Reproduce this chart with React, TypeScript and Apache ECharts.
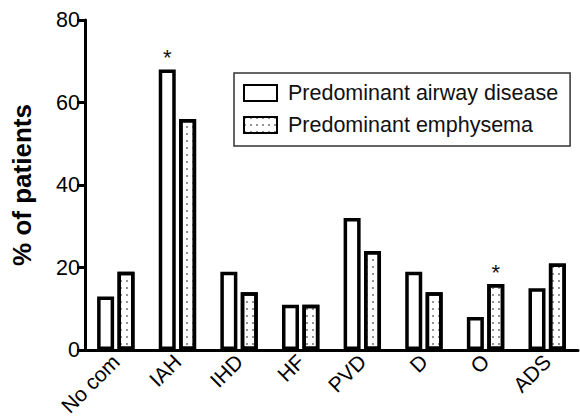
import React, { useEffect, useRef } from "react";
import * as echarts from "echarts";

const categories = ["No com", "IAH", "IHD", "HF", "PVD", "D", "O", "ADS"];
const airwayValues = [13, 68, 19, 11, 32, 19, 8, 15];
const emphysemaValues = [19, 56, 14, 11, 24, 14, 16, 21];
const airwayStars = [false, true, false, false, false, false, false, false];
const emphysemaStars = [false, false, false, false, false, false, true, false];
const yTicks = [0, 20, 40, 60, 80];
const seriesNames = ["Predominant airway disease", "Predominant emphysema"];

const FONT = "'Liberation Sans', Arial, sans-serif";

const dotDecal = {
  symbol: "rect",
  symbolSize: 0.7,
  color: "#333",
  backgroundColor: "#fff",
  dashArrayX: [2, 4],
  dashArrayY: [2, 4.5],
  rotation: 0,
};

function withStars(values: number[], stars: boolean[]) {
  return values.map((v, i) =>
    stars[i]
      ? {
          value: v,
          label: {
            show: true,
            position: "top",
            distance: 1,
            formatter: "*",
            fontSize: 22,
            fontFamily: FONT,
            color: "#111",
          },
        }
      : v
  );
}

export default function App() {
  const ref = useRef<HTMLDivElement>(null);
  useEffect(() => {
    if (!ref.current) return;
    const chart = echarts.init(ref.current, undefined, { renderer: "svg" });
    chart.setOption({
      animation: false,
      backgroundColor: "#fff",
      grid: {
        left: 85,
        right: 2,
        top: 20,
        bottom: 70,
        containLabel: false,
        outerBoundsMode: "none",
      },
      legend: {
        orient: "vertical",
        left: 234,
        top: 73,
        padding: [9, 12, 10, 9],
        borderColor: "#333",
        borderWidth: 1.5,
        itemWidth: 33,
        itemHeight: 16,
        itemGap: 10,
        icon: "rect",
        textStyle: {
          fontSize: 21.5,
          fontFamily: FONT,
          color: "#111",
          padding: [0, 0, 0, 6],
        },
        data: seriesNames,
      },
      xAxis: {
        type: "category",
        data: categories,
        axisLine: { lineStyle: { color: "#000", width: 3 } },
        axisTick: { show: false },
        axisLabel: {
          rotate: 45,
          fontSize: 21,
          fontFamily: FONT,
          color: "#000",
          margin: 8,
          interval: 0,
        },
      },
      yAxis: {
        type: "value",
        min: yTicks[0],
        max: yTicks[yTicks.length - 1],
        interval: 20,
        name: "% of patients",
        nameLocation: "middle",
        nameGap: 50,
        nameTextStyle: {
          fontSize: 26,
          fontWeight: "bold",
          fontFamily: FONT,
          color: "#000",
        },
        axisLine: { show: true, lineStyle: { color: "#000", width: 3 } },
        axisTick: { show: true, length: 8, lineStyle: { color: "#000", width: 3 } },
        axisLabel: {
          fontSize: 21.5,
          fontFamily: FONT,
          color: "#000",
          margin: 5,
        },
        splitLine: { show: false },
      },
      series: [
        {
          name: seriesNames[0],
          type: "bar",
          data: withStars(airwayValues, airwayStars),
          barWidth: 17,
          barGap: "20%",
          itemStyle: { color: "#fff", borderColor: "#000", borderWidth: 3.5 },
        },
        {
          name: seriesNames[1],
          type: "bar",
          data: withStars(emphysemaValues, emphysemaStars),
          barWidth: 17,
          itemStyle: {
            color: "#fff",
            borderColor: "#000",
            borderWidth: 3.5,
            decal: dotDecal,
          },
        },
      ],
    });
    return () => chart.dispose();
  }, []);
  return (
    <div
      ref={ref}
      style={{ position: "fixed", left: 0, top: 0, width: 580, height: 420 }}
    />
  );
}
